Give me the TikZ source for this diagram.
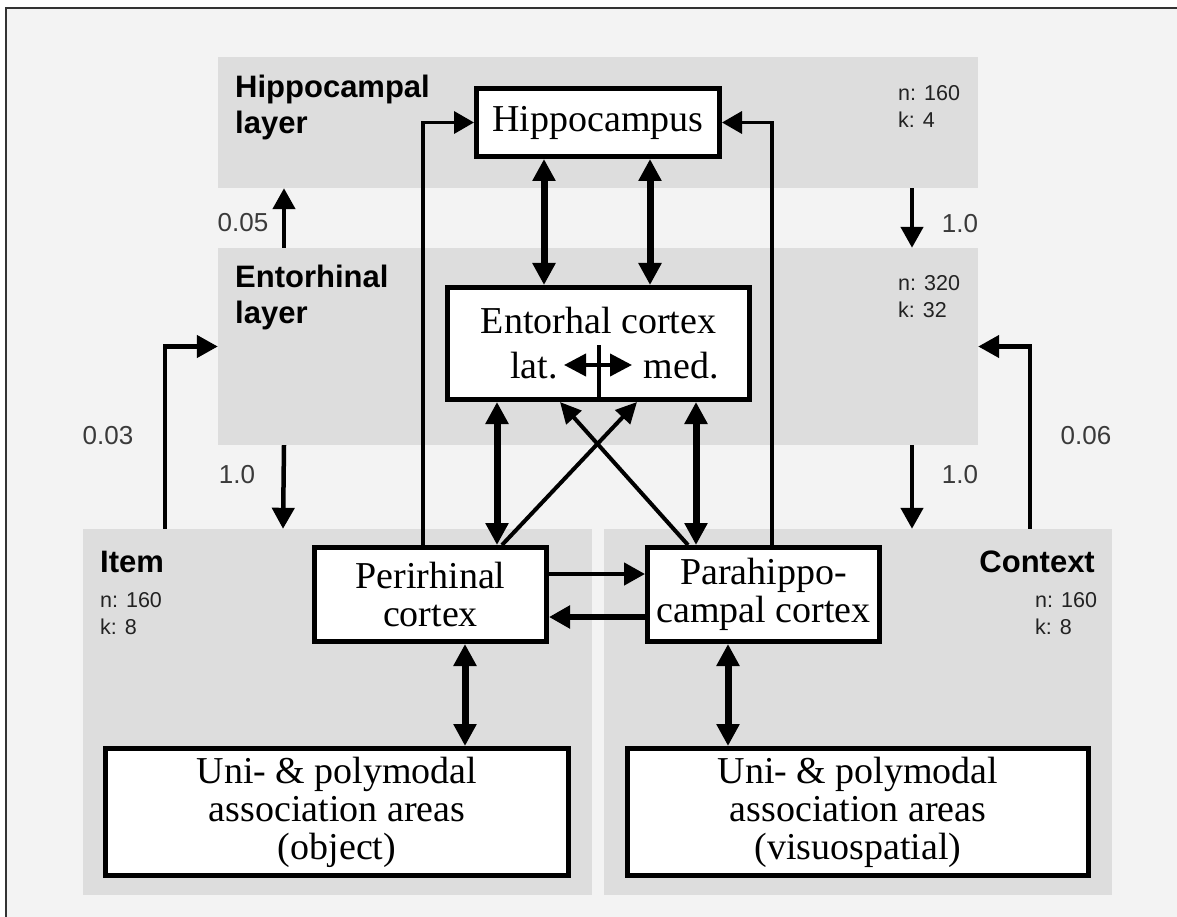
\documentclass[tikz,border=0pt]{standalone}
\usepackage{fontspec}
\setmainfont{Liberation Serif}
\setsansfont{Liberation Sans}
\usepackage{tikz}
\usetikzlibrary{arrows.meta,positioning}

\definecolor{pagebg}{HTML}{F3F3F3}
\definecolor{layerbg}{HTML}{DDDDDD}
\definecolor{numgray}{HTML}{3A3A3A}
\definecolor{unitgray}{HTML}{222222}

\begin{document}
\begin{tikzpicture}[
  x=1pt,y=-1pt,
  layer/.style={rectangle,fill=layerbg,draw=none,inner sep=0pt},
  area/.style={rectangle,draw,line width=5pt,fill=white,inner sep=0pt,align=center,font=\fontsize{38}{38}\selectfont},
  layertitle/.style={anchor=north west,align=left,inner sep=0pt,font=\sffamily\bfseries\fontsize{31}{36}\selectfont},
  units/.style={anchor=north west,align=left,inner sep=0pt,text=unitgray,font=\sffamily\fontsize{21.5}{27}\selectfont},
  weight/.style={inner sep=0pt,text=numgray,font=\sffamily\fontsize{26}{30}\selectfont},
  link/.style={-{Triangle[length=21pt,width=22pt]},line width=4.5pt},
  feedlink/.style={-{Triangle[length=20pt,width=22pt]},line width=3.5pt},
  crosslink/.style={-{Triangle[length=21pt,width=20pt]},line width=4pt},
  biglink/.style={{Triangle[length=22pt,width=22pt]}-{Triangle[length=22pt,width=22pt]},line width=7pt},
  smalllink/.style={{Triangle[length=22pt,width=22pt]}-{Triangle[length=22pt,width=22pt]},line width=4pt}
]
  \useasboundingbox (0,0) rectangle (1177,917);
  \fill[white] (0,0) rectangle (1177,917);
  \fill[pagebg] (6,8) rectangle (1177,917);
  \draw[line width=2pt,black!80] (6,917) -- (6,8) -- (1177,8);

  % layers
  \node[layer,minimum width=760,minimum height=131] (hiplayer) at (598,122.5) {};
  \node[layer,minimum width=760,minimum height=197] (entlayer) at (598,346.5) {};
  \node[layer,minimum width=509,minimum height=366] (itemlayer) at (337.5,712) {};
  \node[layer,minimum width=508,minimum height=366] (ctxlayer) at (858,712) {};

  \node[layertitle] (hiptitle) at (235,75) {Hippocampal\\layer};
  \node[units] (hipunits) at (898,85) {n: 160\\k: 4};
  \node[layertitle] (enttitle) at (235,265) {Entorhinal\\layer};
  \node[units] (entunits) at (898,275) {n: 320\\k: 32};
  \node[layertitle] (itemtitle) at (100,551) {Item};
  \node[units] (itemunits) at (100,592) {n: 160\\k: 8};
  \node[layertitle,anchor=north east] (ctxtitle) at (1095,551) {Context};
  \node[units] (ctxunits) at (1035,592) {n: 160\\k: 8};

  % areas
  \node[area,minimum width=243,minimum height=68] (hip) at (598,122.5) {Hippocampus};
  \node[area,minimum width=302,minimum height=112] (ec) at (598.5,343.5) {Entorhal cortex\\[7pt]\hspace{32pt}lat.\hspace{86pt}med.};
  \node[area,minimum width=232,minimum height=94] (per) at (430.5,594.5) {Perirhinal\\cortex};
  \node[area,minimum width=232,minimum height=94] (par) at (763.5,594.5) {Parahippo-\\campal cortex};
  \node[area,minimum width=463,minimum height=127] (uobj) at (337,812) {Uni- \& polymodal\\association areas\\(object)};
  \node[area,minimum width=461,minimum height=127] (uvis) at (858,812) {Uni- \& polymodal\\association areas\\(visuospatial)};

  % lat / med split
  \draw[line width=4pt] ([yshift=57pt]ec.south) -- (ec.south);
  \draw[smalllink] ([xshift=-34.5pt,yshift=-21.5pt]ec.center) -- ([xshift=33.5pt,yshift=-21.5pt]ec.center);

  % area connections
  \draw[biglink] ([xshift=-54pt]hip.south) -- ([xshift=-54.5pt]ec.north);
  \draw[biglink] ([xshift=52pt]hip.south) -- ([xshift=51.5pt]ec.north);
  \draw[feedlink] ([xshift=-7.5pt]per.north) |- (hip.west);
  \draw[feedlink] ([xshift=8.5pt]par.north) |- (hip.east);
  \draw[biglink] ([xshift=-101.5pt]ec.south) -- ([xshift=66.5pt]per.north);
  \draw[biglink] ([xshift=97.5pt]ec.south) -- ([xshift=-67.5pt]par.north);
  \draw[crosslink] ([xshift=71.5pt]per.north) -- ([xshift=38.5pt]ec.south);
  \draw[crosslink] ([xshift=-75.5pt]par.north) -- ([xshift=-38.5pt]ec.south);
  \draw[link] ([yshift=20.5pt]per.east) -- ([yshift=20.5pt]par.west);
  \draw[link,line width=6.5pt] ([yshift=-22.5pt]par.west) -- ([yshift=-22.5pt]per.east);
  \draw[biglink] ([xshift=34.5pt]per.south) -- ([xshift=128pt]uobj.north);
  \draw[biglink] ([xshift=-35.5pt]par.south) -- ([xshift=-130pt]uvis.north);

  % layer connections
  \draw[link] ([xshift=-314pt]entlayer.north) -- ([xshift=-314pt]hiplayer.south);
  \draw[link] ([xshift=314pt]hiplayer.south) -- ([xshift=314pt]entlayer.north);
  \draw[link] ([xshift=-314pt]entlayer.south) -- ([xshift=-54.5pt]itemlayer.north);
  \draw[link] ([xshift=314pt]entlayer.south) -- ([xshift=54pt]ctxlayer.north);
  \draw[link] ([xshift=-172.5pt]itemlayer.north) |- (entlayer.west);
  \draw[link] ([xshift=172pt]ctxlayer.north) |- (entlayer.east);

  \node[weight] (w05) at (243,223) {0.05};
  \node[weight] (w10a) at (960,224) {1.0};
  \node[weight] (w10b) at (237,475) {1.0};
  \node[weight] (w10c) at (960,475) {1.0};
  \node[weight] (w03) at (108,436) {0.03};
  \node[weight] (w06) at (1086,436) {0.06};
\end{tikzpicture}
\end{document}
